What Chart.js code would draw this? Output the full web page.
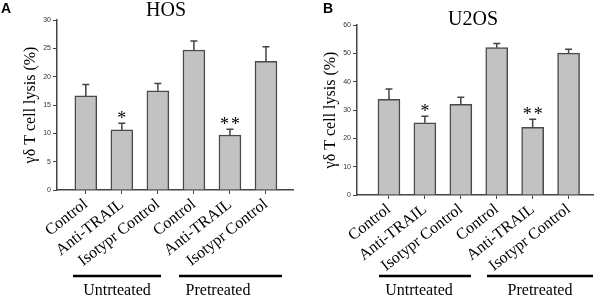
<!DOCTYPE html>
<html>
<head>
<meta charset="utf-8">
<script src="https://cdn.jsdelivr.net/npm/chart.js@4/dist/chart.umd.min.js"></script>
<style>
html, body { margin: 0; padding: 0; background: #fff; }
#wrap { position: relative; width: 600px; height: 297px; }
.panel { position: absolute; top: 0; width: 300px; height: 297px; }
</style>
</head>
<body>
<div id="wrap">
  <div class="panel" style="left:0"><canvas id="chartA" width="300" height="297"></canvas></div>
  <div class="panel" style="left:300px"><canvas id="chartB" width="300" height="297"></canvas></div>
</div>
<script>
// data
const categories = ['Control', 'Anti-TRAIL', 'Isotypr Control', 'Control', 'Anti-TRAIL', 'Isotypr Control'];
const hosLysis = [16.6, 10.6, 17.5, 24.7, 9.7, 22.7];
const hosSD = [2.0, 1.2, 1.3, 1.6, 1.0, 2.6];
const u2osLysis = [33.8, 25.5, 32.0, 52.0, 23.9, 50.1];
const u2osSD = [3.6, 2.3, 2.5, 1.5, 2.8, 1.3];
const sigMarks = ['', '*', '', '', '**', ''];
const groupNames = ['Untrteated', 'Pretreated'];

const serif = 'Liberation Serif';

// error bars, asterisks, panel letters, titles and group bars
const overlay = {
    id: 'overlay',
    afterDatasetsDraw(chart, args, o) {
        const { ctx } = chart;
        const x = chart.scales.x, y = chart.scales.y;
        ctx.save();
        ctx.strokeStyle = '#444';
        ctx.lineWidth = 1.5;
        o.values.forEach((v, i) => {
            const px = x.getPixelForValue(i);
            const base = y.getPixelForValue(v);
            const top = y.getPixelForValue(v + o.sd[i]);
            ctx.beginPath();
            ctx.moveTo(px, base);
            ctx.lineTo(px, top);
            ctx.moveTo(px - 3.5, top);
            ctx.lineTo(px + 3.5, top);
            ctx.stroke();

            // significance stars
            const m = sigMarks[i];
            if (m) {
                ctx.fillStyle = '#000';
                ctx.font = '18px "' + serif + '"';
                ctx.textAlign = 'center';
                ctx.textBaseline = 'alphabetic';
                const n = m.length;
                for (let k = 0; k < n; k++) {
                    const cx = px + (k - (n - 1) / 2) * 11;
                    ctx.fillText('*', cx, top + 1);
                }
            }
        });
        ctx.restore();
    },
    afterDraw(chart, args, o) {
        const { ctx } = chart;
        ctx.save();
        ctx.fillStyle = '#000';
        ctx.textBaseline = 'alphabetic';

        ctx.font = 'bold 14px "Liberation Sans"';
        ctx.textAlign = 'left';
        ctx.fillText(o.letter, o.letterX, 13);

        ctx.font = '20px "' + serif + '"';
        ctx.textAlign = 'center';
        ctx.fillText(o.title, o.titleX, o.titleY);

        ctx.strokeStyle = '#000';
        ctx.lineWidth = 2.5;
        ctx.font = '16px "' + serif + '"';
        o.groups.forEach((g, i) => {
            ctx.beginPath();
            ctx.moveTo(g[0], 276);
            ctx.lineTo(g[1], 276);
            ctx.stroke();
            ctx.fillText(groupNames[i], g[2], 295);
        });
        ctx.restore();
    }
};

function makePanel(id, values, sd, yMax, yStep, p) {
    const ctx = document.getElementById(id).getContext('2d');
    return new Chart(ctx, {
        type: 'bar',
        data: {
            datasets: [{
                data: values.map((v, i) => ({ x: i, y: v })),
                backgroundColor: '#c2c2c2',
                borderColor: '#4a4a4a',
                borderWidth: 1.5,
                barThickness: 22
            }]
        },
        options: {
            responsive: false,
            animation: false,
            layout: { padding: { top: p.top, right: 7, left: 0, bottom: 0 } },
            scales: {
                x: {
                    type: 'linear',
                    offset: false,
                    min: p.xMin,
                    max: p.xMax,
                    afterBuildTicks: s => { s.ticks = categories.map((c, i) => ({ value: i })); },
                    afterFit: s => { s.height = 297 - p.bottom; },
                    ticks: {
                        autoSkip: false,
                        minRotation: 38,
                        maxRotation: 38,
                        padding: 1,
                        color: '#000',
                        font: { family: serif, size: 16 },
                        callback: v => categories[v]
                    },
                    grid: { offset: false, drawOnChartArea: false, tickLength: 4, color: '#444' },
                    border: { color: '#444', width: 1.5 }
                },
                y: {
                    min: 0,
                    max: yMax,
                    afterFit: s => { s.width = 57; },
                    ticks: {
                        stepSize: yStep,
                        padding: 2,
                        color: '#333',
                        font: { family: 'Liberation Sans', size: 7 }
                    },
                    grid: { drawOnChartArea: false, tickLength: 4, color: '#444' },
                    border: { color: '#444', width: 1.5 },
                    title: {
                        display: true,
                        text: 'γδ T cell lysis (%)',
                        color: '#000',
                        font: { family: serif, size: 16 },
                        padding: { top: 21, bottom: 0 }
                    }
                }
            },
            plugins: {
                legend: { display: false },
                tooltip: { enabled: false },
                overlay: {
                    values: values,
                    sd: sd,
                    letter: p.letter,
                    letterX: p.letterX,
                    title: p.title,
                    titleX: p.titleX,
                    titleY: p.titleY,
                    groups: p.groups
                }
            }
        },
        plugins: [overlay]
    });
}

makePanel('chartA', hosLysis, hosSD, 30, 5, {
    top: 20, bottom: 190, xMin: -0.8, xMax: 5.75,
    letter: 'A', letterX: 1, title: 'HOS', titleX: 166, titleY: 16,
    groups: [[73, 161, 117], [179, 282, 218]]
});

makePanel('chartB', u2osLysis, u2osSD, 60, 10, {
    top: 25, bottom: 195, xMin: -0.89, xMax: 5.68,
    letter: 'B', letterX: 23, title: 'U2OS', titleX: 173, titleY: 25,
    groups: [[79, 171, 119], [187, 293, 240]]
});
</script>
</body>
</html>
